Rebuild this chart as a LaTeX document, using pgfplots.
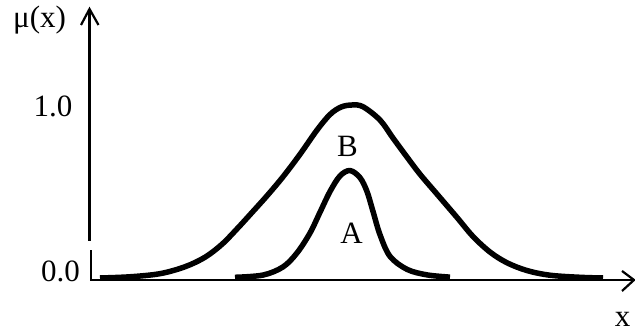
\documentclass[border=0pt]{standalone}
\usepackage{fontspec}
\setmainfont{Liberation Serif}
\usepackage{pgfplots}
\pgfplotsset{compat=1.18}
\tikzset{lbl/.style={inner sep=0pt, font=\fontsize{31}{37}\selectfont}}
\begin{document}
\begin{tikzpicture}
\useasboundingbox (0,0) rectangle (635pt,334pt);
\begin{axis}[
  at={(0,0)}, anchor=south west,
  scale only axis, width=635pt, height=334pt,
  xmin=0, xmax=635, ymin=-0.3237, ymax=1.6069,
  hide axis, clip=false,
]
% curve B
\addplot[black, line width=5.5pt, smooth, tension=0.55] coordinates {
(100,0) (130,0.007) (160,0.025) (185,0.065) (205,0.120) (222,0.195)
(238,0.290) (253,0.385) (267,0.475) (283,0.585) (300,0.715) (317,0.855)
(330,0.945) (341,0.988) (352,1.0) (363,0.99) (380,0.913)
(393,0.809) (407,0.699) (420,0.600) (437,0.485) (457,0.350) (473,0.240)
(490,0.150) (507,0.088) (527,0.043) (550,0.016) (580,0.004) (603,0.0)
};
% curve A
\addplot[black, line width=5.5pt, smooth, tension=0.55] coordinates {
(235,0.004) (263,0.017) (283,0.064) (297,0.145) (310,0.260) (320,0.380)
(330,0.500) (340,0.590) (350,0.621) (360,0.580) (367,0.500) (373,0.385)
(380,0.250) (390,0.125) (407,0.050) (427,0.018) (450,0.005)
};
% axes
\draw[line width=2.2pt] (axis cs:89.5,1.5549) -- (axis cs:89.5,0.2139);
\draw[line width=2.2pt] (axis cs:91,0.1618) -- (axis cs:91,-0.0173);
\draw[line width=2.2pt, line join=miter] (axis cs:81,1.4624) -- (axis cs:89.5,1.5549) -- (axis cs:98.5,1.4624);
\draw[line width=2.2pt] (axis cs:90,-0.01156) -- (axis cs:634,-0.01156);
\draw[line width=2.2pt, line join=miter] (axis cs:622,0.0405) -- (axis cs:634,-0.01156) -- (axis cs:622,-0.0751);
% labels
\node[lbl, anchor=base west] at (axis cs:13,1.448) {μ(x)};
\node[lbl, anchor=base east] at (axis cs:72.5,0.936) {1.0};
\node[lbl, anchor=base east] at (axis cs:80,-0.0231) {0.0};
\node[lbl, anchor=base] at (axis cs:347.5,0.705) {B};
\node[lbl, anchor=base] at (axis cs:351.5,0.1965) {A};
\node[lbl, anchor=base] at (axis cs:622.5,-0.2775) {x};
\end{axis}
\end{tikzpicture}
\end{document}
